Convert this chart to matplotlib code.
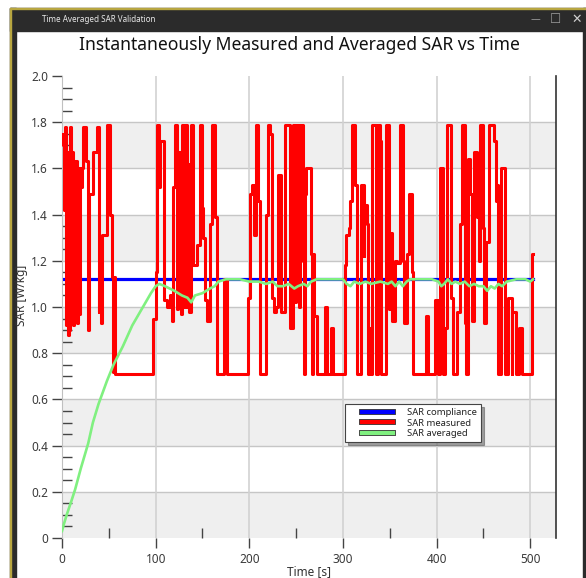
import matplotlib
matplotlib.use("Agg")
import matplotlib.pyplot as plt
import matplotlib.patheffects as pe
from matplotlib.lines import Line2D
from matplotlib.legend_handler import HandlerLine2D
from matplotlib.patches import Rectangle
from matplotlib.ticker import MultipleLocator, FuncFormatter

plt.rcParams['font.family'] = ['Noto Sans', 'DejaVu Sans']

# measured SAR, value holds from each time until the next one
t_meas = [0, 1, 2, 3, 4, 5, 6, 7, 8, 9, 10, 11, 12, 13, 14, 15, 16, 17, 18, 19,
          20, 21, 22, 26, 28, 29, 33, 37, 39, 40, 42, 43, 48, 51, 53, 54, 55, 57,
          97, 100, 101, 104, 105, 109, 112, 115, 117, 119, 121, 123, 124, 127, 128,
          130, 131, 133, 135, 136, 138, 140, 144, 147, 150, 151, 153, 155, 158, 160,
          163, 165, 173, 176, 199, 201, 203, 205, 207, 209, 211, 218, 220, 222, 224,
          226, 228, 231, 234, 238, 243, 247, 249, 250, 251, 252, 253, 254, 255, 256,
          257, 258, 259, 261, 266, 267, 268, 269, 272, 281, 283, 287, 289, 302, 303,
          306, 308, 310, 313, 315, 319, 322, 323, 326, 327, 328, 330, 331, 335, 337,
          340, 341, 346, 349, 350, 352, 356, 358, 361, 364, 365, 368, 371, 374, 375,
          389, 391, 398, 401, 404, 407, 409, 411, 415, 418, 422, 425, 427, 430, 431,
          434, 436, 438, 440, 443, 445, 446, 450, 451, 453, 456, 461, 463, 464, 466,
          469, 473, 476, 480, 481, 485, 488, 491, 502, 503]
sar_meas = [1.75, 1.70, 1.42, 1.78, 0.92, 1.67, 0.88, 1.67, 0.90, 1.78, 0.95, 1.67,
            0.92, 1.63, 0.95, 1.63, 0.93, 1.60, 0.97, 1.60,
            1.52, 1.60, 1.78, 1.63, 0.90, 1.49, 1.67, 1.78, 0.98, 1.08, 0.93, 1.31,
            1.79, 1.40, 1.13, 0.72, 1.13, 0.71,
            0.95, 1.15, 1.79, 1.52, 1.72, 1.03, 1.00, 1.05, 0.94, 1.52, 1.79, 0.99,
            1.67, 0.97, 1.79, 1.00, 1.79, 1.00, 1.62, 0.98, 1.79, 1.18, 1.27, 1.79,
            1.43, 1.30, 1.03, 0.94, 1.36, 1.79, 1.39, 0.71, 1.12, 0.71, 1.04, 1.49,
            1.53, 1.31, 1.79, 1.46, 0.71, 1.40, 1.79, 1.75, 1.04, 0.98, 1.00, 1.57,
            0.98, 1.79, 0.91, 1.79, 1.02, 1.79, 1.29, 1.79, 1.00, 1.79, 1.29, 1.79,
            1.20, 0.71, 1.49, 1.60, 1.23, 0.71, 1.23, 0.96, 0.71, 1.00, 0.71, 0.91,
            0.71, 1.18, 1.31, 1.34, 1.46, 1.79, 1.53, 0.71, 1.53, 1.22, 1.44, 1.36,
            0.71, 0.91, 0.71, 1.79, 0.71, 1.79, 1.72, 0.71, 1.79, 0.99, 1.32, 0.94,
            1.20, 1.19, 1.79, 1.20, 0.93, 1.23, 1.49, 1.15, 0.71, 0.96, 0.71, 1.03,
            0.71, 1.60, 0.71, 0.91, 1.79, 1.04, 0.71, 0.98, 1.36, 1.79, 0.93, 0.71,
            1.64, 1.49, 0.94, 1.67, 1.39, 1.20, 1.79, 1.34, 0.93, 1.28, 1.79, 1.72,
            1.46, 1.53, 0.71, 1.60, 0.71, 1.04, 0.71, 0.98, 0.71, 0.91, 0.71, 1.23,
            1.23]

# averaged SAR
t_avg = [0, 2, 5, 10, 14, 20, 28, 33, 39, 48, 55, 65, 75, 85, 95, 100, 104, 110,
         120, 128, 134, 138, 142, 150, 158, 163, 167, 175, 190, 200, 210, 218, 225,
         230, 236, 242, 248, 252, 258, 262, 266, 272, 280, 290, 300, 304, 308, 312,
         318, 324, 330, 340, 348, 352, 356, 360, 364, 368, 372, 380, 395, 402, 405,
         408, 412, 416, 420, 425, 430, 435, 440, 445, 450, 454, 458, 462, 466, 470,
         475, 485, 495, 500, 503]
sar_avg = [0.03, 0.06, 0.10, 0.16, 0.21, 0.30, 0.41, 0.50, 0.58, 0.68, 0.75, 0.83,
           0.92, 0.99, 1.06, 1.09, 1.10, 1.09, 1.07, 1.05, 1.04, 1.02, 1.05, 1.06,
           1.08, 1.09, 1.11, 1.12, 1.12, 1.11, 1.11, 1.10, 1.11, 1.09, 1.09, 1.10,
           1.08, 1.09, 1.10, 1.09, 1.11, 1.12, 1.12, 1.12, 1.12, 1.10, 1.09, 1.11,
           1.10, 1.11, 1.10, 1.11, 1.10, 1.11, 1.09, 1.11, 1.09, 1.11, 1.12, 1.12,
           1.12, 1.11, 1.09, 1.10, 1.12, 1.10, 1.11, 1.10, 1.11, 1.09, 1.10, 1.09,
           1.09, 1.07, 1.09, 1.08, 1.10, 1.09, 1.11, 1.12, 1.12, 1.11, 1.12]

# compliance level
t_comp = [0, 503]
sar_comp = [1.12, 1.12]

W, H = 586, 578
fig = plt.figure(figsize=(W / 100, H / 100), dpi=100)

# window chrome, drawn in pixel coordinates
bg = fig.add_axes([0, 0, 1, 1], zorder=-1)
bg.set_xlim(0, W)
bg.set_ylim(H, 0)
bg.axis('off')
dark = '#2b2b2b'
bg.add_patch(Rectangle((10, 8), W - 10, 23, color=dark))
bg.add_patch(Rectangle((10, 8), 6, H - 8, color=dark))
bg.add_patch(Rectangle((583, 8), 3, H - 8, color=dark))
bg.add_patch(Rectangle((10, 8), 1.2, H - 8, color='#b8a640'))
bg.add_patch(Rectangle((10, 7.5), W - 10, 1, color='#b8a640'))
bg.text(42, 19.5, 'Time Averaged SAR Validation', color='#e8e8e8', fontsize=5.8,
        va='center')
bg.text(535, 19.5, '\u2014', color='#9a9a9a', fontsize=7, va='center', ha='center',
        family='DejaVu Sans')
bg.text(556, 19.5, '\u2610', color='#9a9a9a', fontsize=9, va='center', ha='center',
        family='DejaVu Sans')
bg.text(577, 19.5, '\u2715', color='#cfcfcf', fontsize=9, va='center', ha='center',
        family='DejaVu Sans')
bg.text(299, 50.5, 'Instantaneously Measured and Averaged SAR vs Time',
        fontsize=12.6, ha='center', va='baseline', color='#111111')
bg.text(309, 572, 'Time [s]', fontsize=8.5, ha='center', va='center', color='#333333')
bg.text(22, 295, 'SAR [W/kg]', fontsize=8.5, ha='center', va='center',
        rotation=90, color='#333333')

# plot area
x0, x1, y0, y1 = 62, 556, 76, 538
ax = fig.add_axes([x0 / W, 1 - y1 / H, (x1 - x0) / W, (y1 - y0) / H])
ax.set_xlim(0, 527.5)
ax.set_ylim(0, 2.0)

for lo in [0.0, 0.4, 0.8, 1.2, 1.6]:
    ax.axhspan(lo, lo + 0.2, color='#efefef', lw=0, zorder=0)
for yv in [0.2, 0.4, 0.6, 0.8, 1.0, 1.2, 1.4, 1.6, 1.8]:
    ax.axhline(yv, color='#c6c6c6', lw=1.0, zorder=0.5)
for xv in [100, 200, 300, 400, 500]:
    ax.axvline(xv, color='#d2d2d2', lw=1.2, zorder=0.5)

ax.plot(t_comp, sar_comp, color='#0000ff', lw=2.3, zorder=2)
ax.plot(t_meas, sar_meas, color='#ff0000', lw=2.2, drawstyle='steps-post', zorder=3)
ax.plot(t_avg, sar_avg, color='#80f080', lw=1.9, zorder=4)

ax.xaxis.set_major_locator(MultipleLocator(100))
ax.xaxis.set_minor_locator(MultipleLocator(50))
ax.yaxis.set_major_locator(MultipleLocator(0.2))
ax.yaxis.set_minor_locator(MultipleLocator(0.05))
ax.yaxis.set_major_formatter(FuncFormatter(lambda v, p: '0' if abs(v) < 1e-9 else f'{v:.1f}'))
ax.xaxis.set_major_formatter(FuncFormatter(lambda v, p: f'{v:.0f}'))

ax.tick_params(axis='both', which='major', direction='out', length=7, width=1,
               color='#444444', labelcolor='#3a3a3a', labelsize=8.5, pad=3)
ax.tick_params(axis='both', which='minor', direction='in', length=7, width=1,
               color='#444444')
ax.tick_params(axis='x', which='major', pad=4)

ax.spines['top'].set_visible(False)
ax.spines['bottom'].set_visible(False)
ax.spines['left'].set_color('#c0c0c0')
ax.spines['right'].set_color('#333333')
ax.spines['right'].set_linewidth(1.2)

outline = [pe.Stroke(linewidth=4.2, foreground='#333333'), pe.Normal()]
handles = [Line2D([], [], color='#0000ff', lw=3, path_effects=outline),
           Line2D([], [], color='#ff0000', lw=3, path_effects=outline),
           Line2D([], [], color='#80f080', lw=3, path_effects=outline)]
leg = ax.legend(handles, ['SAR compliance', 'SAR measured', 'SAR averaged'],
                loc='upper left', bbox_to_anchor=(345 / W, 1 - 404 / H),
                bbox_transform=fig.transFigure, borderaxespad=0, fontsize=6.8,
                frameon=True, fancybox=False, shadow=True, handlelength=6.0,
                handletextpad=0.15, labelspacing=0.15, borderpad=0.45,
                handler_map={Line2D: HandlerLine2D(numpoints=2, marker_pad=1.38)})
leg.get_frame().set_edgecolor('#444444')
leg.get_frame().set_linewidth(0.8)
for txt in leg.get_texts():
    txt.set_color('#222222')

fig.savefig('out.png', dpi=100)
